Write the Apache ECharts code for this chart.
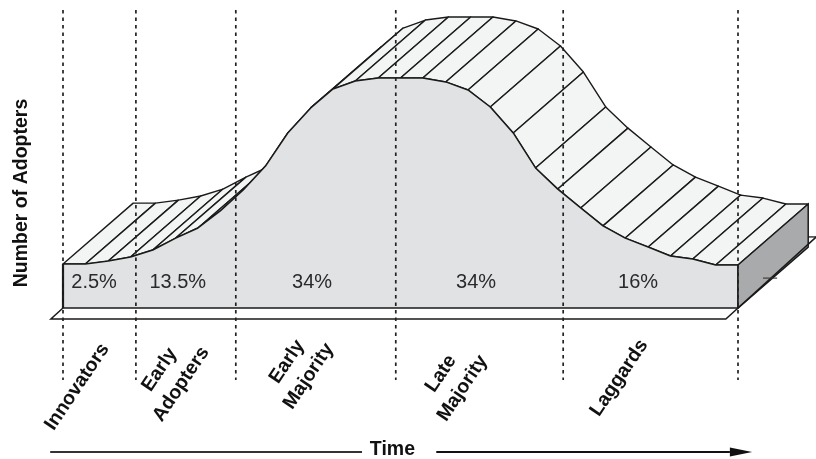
<!DOCTYPE html>
<html>
<head>
<meta charset="utf-8">
<script src="https://cdn.jsdelivr.net/npm/echarts@6/dist/echarts.min.js"></script>
<style>
  html, body { margin: 0; padding: 0; background: #fff; }
  #chart { width: 816px; height: 459px; }
</style>
</head>
<body>
<div id="chart"></div>
<script>
// adoption curve (front edge of the slab), time 0..100, adopters 0..100
const timePoints = [0, 3.3, 6.7, 10, 13.3, 16.7, 20, 23.3, 26.7, 30, 33.3, 36.7, 40, 43.3, 46.7,
  50, 53.3, 56.7, 60, 63.3, 66.7, 70, 73.3, 76.7, 80, 83.3, 86.7, 90, 93.3, 96.7, 100];
const adopters = [19.1, 19.1, 20.4, 22.2, 25.2, 30.4, 34.8, 42.2, 51.3, 61.7, 76.1, 87.0, 95.2, 98.7, 100,
  100, 100, 98.3, 94.8, 87.4, 76.1, 60.9, 51.7, 43.5, 35.7, 30.4, 26.5, 22.6, 21.3, 18.7, 18.7];

// adopter categories
const boundaries = [0, 10.8, 25.6, 49.3, 74.1, 100];
const categories = ["Innovators", "Early\nAdopters", "Early\nMajority", "Late\nMajority", "Laggards"];
const categoryX = [2.1, 15.9, 34.8, 57.6, 82.4];
const categoryY = [-34.3, -30.0, -26.5, -31.7, -30.4];
const shares = ["2.5%", "13.5%", "34%", "34%", "16%"];
const shareX = [4.6, 17.0, 36.9, 61.2, 85.2];

const INK = "#1a1a1a";
const FONT = '"Liberation Sans", Arial, Helvetica, sans-serif';
const DX = 10.4, DY = 26.5; // depth of the extruded slab, axis units
const SHARE_Y = 10.9;
const GUIDE_TOP = 129.6, GUIDE_BOTTOM = -31.3;
const ARROW_Y = -62.6;

const chart = echarts.init(document.getElementById("chart"));

const segments = timePoints.slice(0, -1).map((t, i) => [t, adopters[i], timePoints[i + 1], adopters[i + 1]]);

chart.setOption({
  animation: false,
  grid: { left: 63, right: 78, top: 78, bottom: 151 },
  xAxis: { type: "value", min: 0, max: 100, show: false },
  yAxis: {
    type: "value", min: 0, max: 100,
    name: "Number of Adopters", nameLocation: "middle", nameGap: 31, nameRotate: 90,
    nameTextStyle: { fontFamily: FONT, fontWeight: "bold", fontSize: 19.5, color: "#111" },
    axisLine: { show: false }, axisTick: { show: false }, axisLabel: { show: false }, splitLine: { show: false },
  },
  series: [
    // hatched top surface, one strip per curve segment
    {
      type: "custom", z: 1, data: segments,
      renderItem: (params, api) => {
        const f0 = api.coord([api.value(0), api.value(1)]);
        const f1 = api.coord([api.value(2), api.value(3)]);
        const b1 = api.coord([api.value(2) + DX, api.value(3) + DY]);
        const b0 = api.coord([api.value(0) + DX, api.value(1) + DY]);
        return {
          type: "polygon", shape: { points: [f0, f1, b1, b0] },
          style: { fill: "#f3f4f4", stroke: INK, lineWidth: 1.4, lineJoin: "round" },
        };
      },
    },
    // front face, side face and base plate
    {
      type: "custom", z: 2, data: [[0, 0]],
      renderItem: (params, api) => {
        const front = [api.coord([0, 0])];
        timePoints.forEach((t, i) => front.push(api.coord([t, adopters[i]])));
        front.push(api.coord([100, 0]));
        const last = adopters[adopters.length - 1];
        const side = [
          api.coord([100, last]), api.coord([100 + DX, last + DY]),
          api.coord([100 + DX, DY]), api.coord([100, 0]),
        ];
        const line = (pts, w, c) => ({
          type: "polyline", shape: { points: pts },
          style: { fill: null, stroke: c || INK, lineWidth: w },
        });
        return {
          type: "group",
          children: [
            { type: "polygon", shape: { points: front }, style: { fill: "#e1e2e4", stroke: INK, lineWidth: 1.5, lineJoin: "round" } },
            { type: "polygon", shape: { points: side }, style: { fill: "#a9aaac", stroke: INK, lineWidth: 1.5 } },
            line([api.coord([0, 0]), api.coord([-1.8, -4.8]), api.coord([98.2, -4.8]),
              api.coord([100, 0]), api.coord([111.6, 30.9])], 1.5),
            line([api.coord([100 + DX, 30.9]), api.coord([111.6, 30.9])], 1.3),
            line([api.coord([103.7, 13.0]), api.coord([105.8, 13.0])], 1.1, "#333"),
            line([api.coord([0, 0]), api.coord([0, adopters[0]])], 2.2),
          ],
        };
      },
    },
    // dotted category boundaries
    {
      type: "custom", z: 3, data: boundaries.map((b) => [b]),
      renderItem: (params, api) => {
        const top = api.coord([api.value(0), GUIDE_TOP]);
        const bot = api.coord([api.value(0), GUIDE_BOTTOM]);
        return {
          type: "line", shape: { x1: top[0], y1: top[1], x2: bot[0], y2: bot[1] },
          style: { stroke: "#222", lineWidth: 1.7, lineDash: [3.5, 4] },
        };
      },
    },
    // share of adopters in each category
    {
      type: "custom", z: 4, data: shares.map((s, i) => [shareX[i], SHARE_Y, s]),
      renderItem: (params, api) => {
        const p = api.coord([api.value(0), api.value(1)]);
        return {
          type: "text", x: p[0], y: p[1],
          style: { text: shares[params.dataIndex], fill: "#2a2a2a", font: "20px " + FONT, textAlign: "center", textVerticalAlign: "middle" },
        };
      },
    },
    // category names, slanted
    {
      type: "custom", z: 4, data: categories.map((c, i) => [categoryX[i], categoryY[i]]),
      renderItem: (params, api) => {
        const p = api.coord([api.value(0), api.value(1)]);
        return {
          type: "text", x: p[0], y: p[1], rotation: 56 * Math.PI / 180,
          style: {
            text: categories[params.dataIndex], fill: "#111", font: "bold 19.5px " + FONT,
            textAlign: "center", textVerticalAlign: "middle", lineHeight: 26,
          },
        };
      },
    },
    // time arrow
    {
      type: "custom", z: 4, data: [[48.8, ARROW_Y]],
      renderItem: (params, api) => {
        const a = api.coord([-1.9, ARROW_Y]);
        const b = api.coord([44.3, ARROW_Y]);
        const c = api.coord([55.3, ARROW_Y]);
        const head = api.coord([98.8, ARROW_Y]);
        const tip = api.coord([102.1, ARROW_Y]);
        const mid = api.coord([api.value(0), api.value(1)]);
        return {
          type: "group",
          children: [
            { type: "line", shape: { x1: a[0], y1: a[1], x2: b[0], y2: b[1] }, style: { stroke: "#333", lineWidth: 2.2 } },
            { type: "line", shape: { x1: c[0], y1: c[1], x2: head[0], y2: head[1] }, style: { stroke: "#111", lineWidth: 2.2 } },
            { type: "polygon", shape: { points: [[head[0], head[1] - 4.5], tip, [head[0], head[1] + 4.5]] }, style: { fill: "#111" } },
            { type: "text", x: mid[0], y: mid[1] - 2, style: { text: "Time", fill: "#111", font: "bold 19.5px " + FONT, textAlign: "center", textVerticalAlign: "middle" } },
          ],
        };
      },
    },
  ],
});

window.addEventListener("resize", () => chart.resize());
</script>
</body>
</html>
